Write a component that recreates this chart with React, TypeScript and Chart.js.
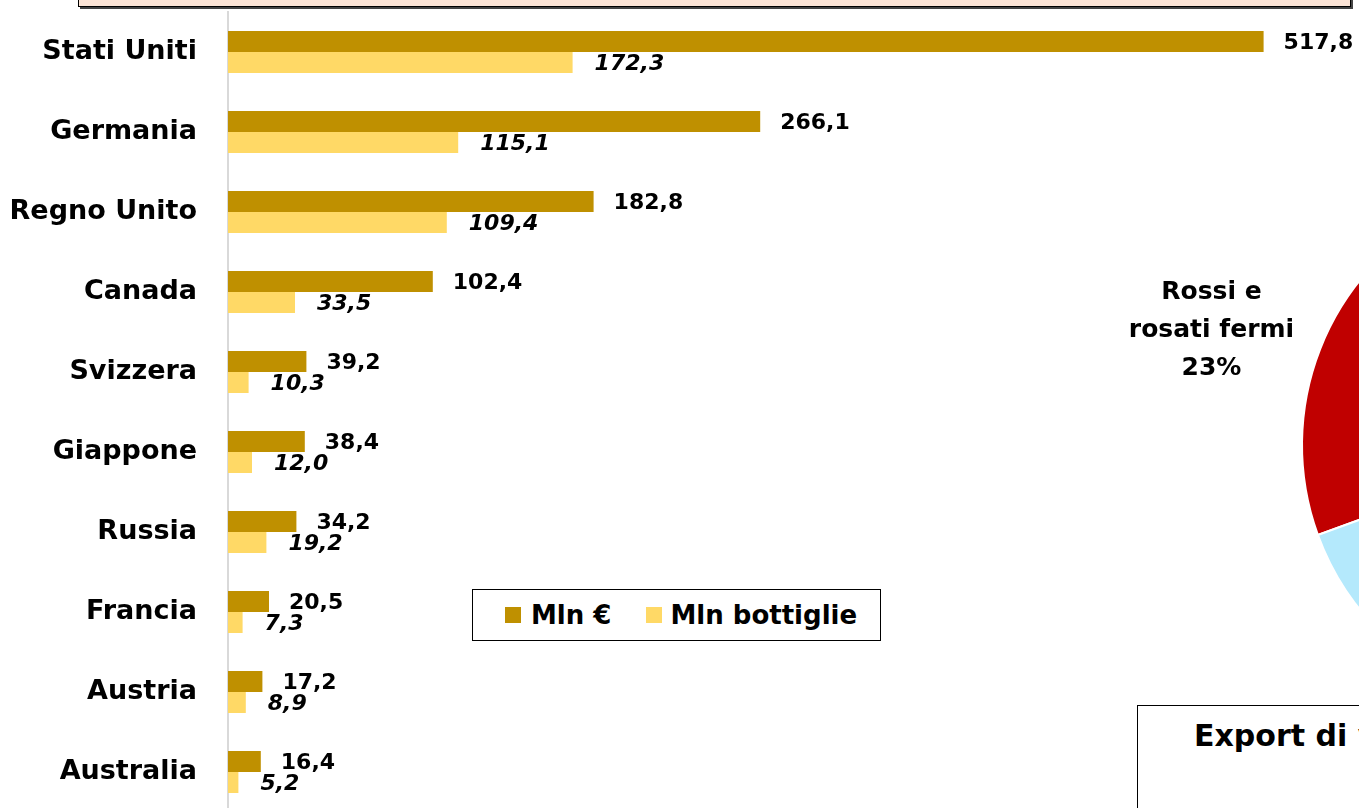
import React, { useEffect, useRef } from "react";
import { Chart, registerables } from "chart.js";

Chart.register(...registerables);

const categories = [
  "Stati Uniti",
  "Germania",
  "Regno Unito",
  "Canada",
  "Svizzera",
  "Giappone",
  "Russia",
  "Francia",
  "Austria",
  "Australia",
];
const mlnEuro = [517.8, 266.1, 182.8, 102.4, 39.2, 38.4, 34.2, 20.5, 17.2, 16.4];
const mlnBottiglie = [172.3, 115.1, 109.4, 33.5, 10.3, 12.0, 19.2, 7.3, 8.9, 5.2];
const seriesNames = ["Mln €", "Mln bottiglie"];

const pieLabels = ["Rossi e rosati fermi", "Altri vini", "Spumanti"];
const pieValues = [23, 62, 15];
const pieColors = ["#C00000", "#F4B183", "#B4E9FC"];

const FONT = "'DejaVu Sans', sans-serif";
const DARK = "#BF9000";
const LIGHT = "#FFD966";

const fmt = (v: number) => v.toFixed(1).replace(".", ",");

const valueLabelPlugin = {
  id: "valueLabels",
  afterDatasetsDraw(chart: any) {
    const ctx = chart.ctx;
    ctx.save();
    ctx.fillStyle = "#000";
    ctx.textBaseline = "middle";
    ctx.textAlign = "left";
    chart.data.datasets.forEach((ds: any, di: number) => {
      const meta = chart.getDatasetMeta(di);
      meta.data.forEach((bar: any, i: number) => {
        const v = ds.data[i];
        if (di === 0) {
          ctx.font = `bold 22px ${FONT}`;
          ctx.fillText(fmt(v), bar.x + 20, bar.y + 2);
        } else {
          ctx.font = `italic bold 22px ${FONT}`;
          ctx.fillText(fmt(v), bar.x + 22, bar.y + 2);
        }
      });
    });
    ctx.restore();
  },
};

const pieLabelPlugin = {
  id: "pieLabel",
  afterDatasetsDraw(chart: any) {
    const ctx = chart.ctx;
    const meta = chart.getDatasetMeta(0);
    const arc = meta.data[0];
    if (!arc) return;
    const mid = (arc.startAngle + arc.endAngle) / 2 - (3.45 * Math.PI) / 180;
    const r = arc.outerRadius * 1.413;
    const cx = arc.x + Math.cos(mid) * r;
    const cy = arc.y + Math.sin(mid) * r;
    const total = pieValues.reduce((a, b) => a + b, 0);
    const pct = Math.round((pieValues[0] / total) * 100) + "%";
    const lines = ["Rossi e", "rosati fermi", pct];
    ctx.save();
    ctx.fillStyle = "#000";
    ctx.font = `bold 25px ${FONT}`;
    ctx.textAlign = "center";
    ctx.textBaseline = "middle";
    lines.forEach((t, k) => ctx.fillText(t, cx, cy + (k - 1) * 38));
    ctx.restore();
  },
};

export default function App() {
  const barRef = useRef<HTMLCanvasElement>(null);
  const pieRef = useRef<HTMLCanvasElement>(null);

  useEffect(() => {
    const bar = new Chart(barRef.current!, {
      type: "bar",
      data: {
        labels: categories,
        datasets: [
          {
            label: seriesNames[0],
            data: mlnEuro,
            backgroundColor: DARK,
            categoryPercentage: 0.525,
            barPercentage: 1,
          },
          {
            label: seriesNames[1],
            data: mlnBottiglie,
            backgroundColor: LIGHT,
            categoryPercentage: 0.525,
            barPercentage: 1,
          },
        ],
      },
      options: {
        indexAxis: "y",
        responsive: false,
        animation: false,
        layout: { padding: { top: 12, right: 0, bottom: 0, left: 0 } },
        plugins: { legend: { display: false }, tooltip: { enabled: false } },
        scales: {
          x: { display: false, min: 0, max: 565.5 },
          y: {
            grid: { display: false, drawTicks: false },
            border: { display: true, color: "#D9D9D9", width: 2 },
            ticks: {
              color: "#000",
              padding: 31,
              font: { family: FONT, weight: "bold", size: 27 },
            },
            afterFit(scale: any) {
              scale.width = 228;
              scale.paddingTop = 0;
              scale.paddingBottom = 0;
            },
          },
        },
      },
      plugins: [valueLabelPlugin],
    });

    const pie = new Chart(pieRef.current!, {
      type: "pie",
      data: {
        labels: pieLabels,
        datasets: [
          {
            data: pieValues,
            backgroundColor: pieColors,
            borderColor: "#fff",
            borderWidth: 2,
          },
        ],
      },
      options: {
        responsive: false,
        animation: false,
        rotation: 250,
        layout: { padding: 0 },
        plugins: { legend: { display: false }, tooltip: { enabled: false } },
      },
      plugins: [pieLabelPlugin],
    });

    return () => {
      bar.destroy();
      pie.destroy();
    };
  }, []);

  return (
    <div
      style={{
        position: "fixed",
        left: 0,
        top: 0,
        width: 1359,
        height: 808,
        overflow: "hidden",
        background: "#fff",
        fontFamily: FONT,
      }}
    >
      <div
        style={{
          position: "absolute",
          left: 78,
          top: -20,
          width: 1271,
          height: 25,
          background: "#FCE4D6",
          border: "1.5px solid #000",
          boxShadow: "2px 2px 0 #444",
        }}
      />
      <canvas
        ref={pieRef}
        width={930}
        height={528}
        style={{ position: "absolute", left: 1100, top: 181 }}
      />
      <canvas
        ref={barRef}
        width={1359}
        height={812}
        style={{ position: "absolute", left: 0, top: 0 }}
      />
      <div
        style={{
          position: "absolute",
          left: 472,
          top: 589,
          width: 407,
          height: 50,
          border: "1.5px solid #000",
          background: "#fff",
          display: "flex",
          alignItems: "center",
          fontWeight: "bold",
          fontSize: 26,
          color: "#000",
          whiteSpace: "nowrap",
        }}
      >
        <span style={{ display: "inline-block", width: 16, height: 16, background: DARK, marginLeft: 32, marginRight: 10 }} />
        <span>{seriesNames[0]}</span>
        <span style={{ display: "inline-block", width: 16, height: 16, background: LIGHT, marginLeft: 35, marginRight: 8 }} />
        <span>{seriesNames[1]}</span>
      </div>
      <div
        style={{
          position: "absolute",
          left: 1137,
          top: 705,
          width: 600,
          height: 200,
          border: "1.5px solid #000",
          background: "#fff",
        }}
      >
        <div
          style={{
            position: "absolute",
            left: 56,
            top: 12,
            fontWeight: "bold",
            fontSize: 30,
            color: "#000",
            whiteSpace: "nowrap",
          }}
        >
          Export di vino italiano
        </div>
      </div>
    </div>
  );
}
